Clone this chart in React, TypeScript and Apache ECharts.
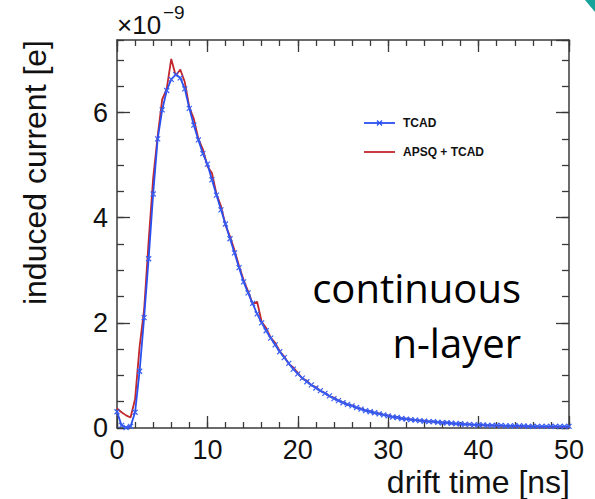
import React, { useEffect, useRef } from "react";
import * as echarts from "echarts";

// Drift-time bins (ns), 0.5 ns wide
const binWidth = 0.5;
const driftTime: number[] = Array.from({ length: 101 }, (_, i) => i * binWidth);

// Induced current (×1e-9 e) from the TCAD simulation
const tcadCurrent: number[] = [
  0.31, 0.05, 0.01, 0.03, 0.30, 1.08, 2.10, 3.22, 4.45, 5.50,
  6.05, 6.42, 6.63, 6.72, 6.66, 6.45, 6.08, 5.76, 5.48, 5.22,
  5.02, 4.72, 4.43, 4.15, 3.88, 3.60, 3.33, 3.05, 2.78, 2.57,
  2.37, 2.17, 2.00, 1.85, 1.71, 1.58, 1.45, 1.34, 1.23, 1.12,
  1.03, 0.95, 0.88, 0.82, 0.76, 0.71, 0.66, 0.61, 0.56, 0.52,
  0.48, 0.45, 0.42, 0.39, 0.36, 0.33, 0.31, 0.29, 0.27, 0.25,
  0.23, 0.21, 0.20, 0.18, 0.17, 0.16, 0.15, 0.14, 0.13, 0.12,
  0.12, 0.11, 0.10, 0.10, 0.09, 0.08, 0.08, 0.07, 0.07, 0.06,
  0.06, 0.06, 0.05, 0.05, 0.05, 0.05, 0.04, 0.04, 0.04, 0.04,
  0.04, 0.03, 0.03, 0.03, 0.03, 0.03, 0.03, 0.03, 0.03, 0.03,
  0.03,
];

// Induced current (×1e-9 e) from APSQ + TCAD
const apsqCurrent: number[] = [
  0.37, 0.30, 0.24, 0.20, 0.55, 1.55, 2.25, 3.55, 4.75, 5.55,
  6.25, 6.45, 7.02, 6.70, 6.82, 6.58, 6.10, 5.88, 5.50, 5.30,
  4.98, 4.85, 4.45, 4.22, 3.86, 3.64, 3.38, 3.08, 2.82, 2.60,
  2.36, 2.40, 2.02, 1.90, 1.72, 1.62, 1.46, 1.36, 1.22, 1.15,
  1.05, 0.94, 0.90, 0.81, 0.78, 0.70, 0.67, 0.60, 0.58, 0.52,
  0.49, 0.44, 0.43, 0.38, 0.37, 0.33, 0.32, 0.28, 0.28, 0.25,
  0.24, 0.21, 0.21, 0.18, 0.18, 0.16, 0.15, 0.14, 0.14, 0.12,
  0.12, 0.11, 0.10, 0.10, 0.09, 0.08, 0.08, 0.07, 0.07, 0.06,
  0.06, 0.05, 0.05, 0.05, 0.04, 0.04, 0.04, 0.04, 0.03, 0.03,
  0.03, 0.03, 0.03, 0.02, 0.02, 0.02, 0.02, 0.02, 0.02, 0.02,
  0.01,
];

const seriesNames = ["TCAD", "APSQ + TCAD"];
const xRange = [0, 50];
const yRange = [0, 7.38];
const annotationLines = ["continuous", "n-layer"];

const FRAME = "#3a3a3a";
const BLUE = "#2a4ff0";
const RED = "#c1272d";
const LABEL_FONT = "'Liberation Sans', Arial, Helvetica, sans-serif";

function valueAxisX(position: "bottom" | "top", interval: number, tickLen: number, withLine: boolean, withLabels: boolean) {
  return {
    type: "value",
    position,
    min: xRange[0],
    max: xRange[1],
    interval,
    axisLine: { show: withLine, onZero: false, lineStyle: { color: FRAME, width: 1.5 } },
    axisTick: { show: true, inside: true, length: tickLen, lineStyle: { color: FRAME, width: 1.3 } },
    axisLabel: {
      show: withLabels,
      margin: 8,
      color: "#111",
      fontSize: 27,
      fontFamily: LABEL_FONT,
    },
    splitLine: { show: false },
  };
}

function valueAxisY(position: "left" | "right", interval: number, tickLen: number, withLine: boolean, withLabels: boolean) {
  return {
    type: "value",
    position,
    min: yRange[0],
    max: yRange[1],
    interval,
    axisLine: { show: withLine, onZero: false, lineStyle: { color: FRAME, width: 1.5 } },
    axisTick: { show: true, inside: true, length: tickLen, lineStyle: { color: FRAME, width: 1.3 } },
    axisLabel: {
      show: withLabels,
      showMaxLabel: false,
      margin: 9,
      color: "#111",
      fontSize: 27,
      fontFamily: LABEL_FONT,
    },
    splitLine: { show: false },
  };
}

// Legend entries drawn as graphic elements: line sample, optional cross marker, label
function legendEntry(y: number, color: string, label: string, withMarker: boolean) {
  const x0 = 364;
  const x1 = 395;
  const cx = (x0 + x1) / 2;
  const children: any[] = [
    {
      type: "line",
      shape: { x1: x0, y1: y, x2: x1, y2: y },
      style: { stroke: color, lineWidth: 1.8 },
    },
    {
      type: "text",
      x: 403,
      y,
      style: {
        text: label,
        fontSize: 12,
        fontWeight: "bold",
        fontFamily: LABEL_FONT,
        fill: "#111",
        align: "left",
        verticalAlign: "middle",
      },
    },
  ];
  if (withMarker) {
    children.push(
      { type: "line", shape: { x1: cx - 2.5, y1: y - 2.5, x2: cx + 2.5, y2: y + 2.5 }, style: { stroke: color, lineWidth: 1.2 } },
      { type: "line", shape: { x1: cx - 2.5, y1: y + 2.5, x2: cx + 2.5, y2: y - 2.5 }, style: { stroke: color, lineWidth: 1.2 } }
    );
  }
  return { type: "group", children };
}

export default function App() {
  const ref = useRef<HTMLDivElement>(null);

  useEffect(() => {
    if (!ref.current) return;
    const chart = echarts.init(ref.current, undefined, { renderer: "svg" });

    const tcadData = driftTime.map((t, i) => [t, tcadCurrent[i]]);
    const apsqData = driftTime.map((t, i) => [t, apsqCurrent[i]]);

    chart.setOption({
      animation: false,
      backgroundColor: "#ffffff",
      grid: { left: 117, right: 26, top: 40, bottom: 71, containLabel: false },
      xAxis: [
        valueAxisX("bottom", 10, 12, true, true),
        valueAxisX("bottom", 2, 6, false, false),
        valueAxisX("top", 10, 12, true, false),
        valueAxisX("top", 2, 6, false, false),
      ],
      yAxis: [
        valueAxisY("left", 2, 13, true, true),
        valueAxisY("left", 0.5, 7, false, false),
        valueAxisY("right", 2, 13, true, false),
        valueAxisY("right", 0.5, 7, false, false),
      ],
      series: [
        {
          name: seriesNames[1],
          type: "line",
          xAxisIndex: 0,
          yAxisIndex: 0,
          data: apsqData,
          showSymbol: false,
          symbol: "none",
          lineStyle: { color: RED, width: 1.8 },
          itemStyle: { color: RED },
          z: 2,
        },
        {
          name: seriesNames[0],
          type: "line",
          xAxisIndex: 0,
          yAxisIndex: 0,
          data: tcadData,
          symbol: "path://M0,0L8,8M8,0L0,8",
          symbolSize: 5,
          showSymbol: true,
          itemStyle: { color: "rgba(0,0,0,0)", borderColor: "#3a5ff2", borderWidth: 1.2 },
          lineStyle: { color: BLUE, width: 1.8 },
          z: 3,
        },
      ],
      graphic: [
        legendEntry(123, BLUE, seriesNames[0], true),
        legendEntry(152, RED, seriesNames[1], false),
        {
          type: "text",
          x: 35,
          y: 40,
          rotation: Math.PI / 2,
          style: {
            text: "induced current [e]",
            fontSize: 32,
            fontFamily: LABEL_FONT,
            fill: "#111",
            align: "right",
            verticalAlign: "middle",
          },
        },
        {
          type: "text",
          x: 570,
          y: 482,
          style: {
            text: "drift time [ns]",
            fontSize: 32,
            fontFamily: LABEL_FONT,
            fill: "#111",
            align: "right",
            verticalAlign: "middle",
          },
        },
        {
          type: "text",
          x: 117,
          y: 25,
          style: {
            text: "×10",
            fontSize: 26,
            fontFamily: LABEL_FONT,
            fill: "#111",
            align: "left",
            verticalAlign: "middle",
          },
        },
        {
          type: "text",
          x: 163,
          y: 12,
          style: {
            text: "−9",
            fontSize: 19,
            fontFamily: LABEL_FONT,
            fill: "#111",
            align: "left",
            verticalAlign: "middle",
          },
        },
        {
          type: "text",
          x: 521,
          y: 287,
          style: {
            text: annotationLines[0],
            fontSize: 40,
            fontFamily: "'Open Sans', Lato, sans-serif",
            fill: "#000",
            align: "right",
            verticalAlign: "middle",
          },
        },
        {
          type: "text",
          x: 521,
          y: 342,
          style: {
            text: annotationLines[1],
            fontSize: 40,
            fontFamily: "'Open Sans', Lato, sans-serif",
            fill: "#000",
            align: "right",
            verticalAlign: "middle",
          },
        },
        {
          type: "polygon",
          shape: { points: [[585, 0], [595, 0], [595, 12]] },
          style: { fill: "#17a59b" },
        },
      ],
    });

    return () => chart.dispose();
  }, []);

  return (
    <div
      ref={ref}
      style={{ position: "fixed", left: 0, top: 0, width: 595, height: 499, background: "#fff" }}
    />
  );
}
